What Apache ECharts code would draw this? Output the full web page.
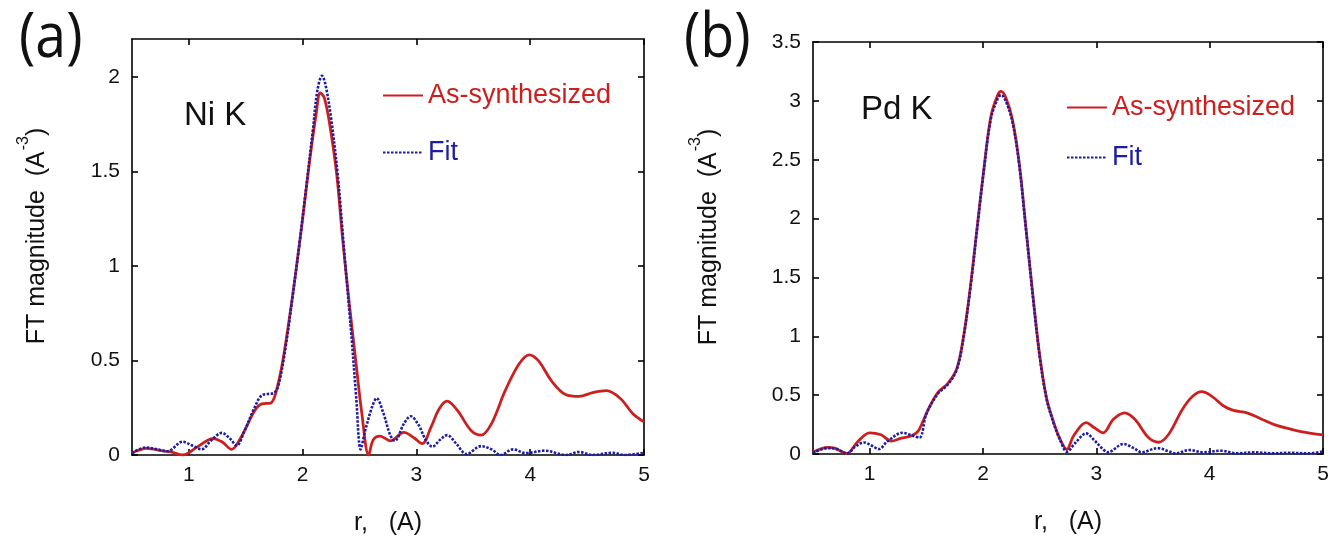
<!DOCTYPE html>
<html>
<head>
<meta charset="utf-8">
<script src="https://cdn.jsdelivr.net/npm/echarts@6/dist/echarts.min.js"></script>
<style>html,body{margin:0;padding:0;background:#fff}#c{width:1333px;height:546px}</style>
</head>
<body>
<div id="c"></div>
<script>
// ---------- data (r in Å, FT magnitude) ----------
var niExpR = [0.5,0.63,0.78,0.84,0.945,1.08,1.21,1.29,1.375,1.46,1.58,1.64,1.72,1.76,1.82,1.88,1.94,2.0,2.06,2.12,2.155,2.19,2.24,2.3,2.35,2.41,2.47,2.52,2.58,2.62,2.68,2.77,2.89,2.98,3.05,3.13,3.2,3.27,3.36,3.48,3.57,3.66,3.78,3.9,3.99,4.07,4.19,4.31,4.43,4.55,4.67,4.79,4.9,5.0];
var niExpY = [0.01,0.035,0.02,0.017,0.0,0.045,0.087,0.07,0.03,0.096,0.236,0.27,0.275,0.32,0.48,0.71,0.97,1.25,1.55,1.81,1.915,1.89,1.74,1.48,1.15,0.80,0.48,0.22,0.0,0.08,0.10,0.075,0.12,0.09,0.06,0.15,0.245,0.285,0.236,0.13,0.105,0.166,0.34,0.48,0.53,0.50,0.39,0.32,0.31,0.33,0.34,0.30,0.22,0.175];
var niFitR = [0.5,0.62,0.72,0.81,0.945,1.03,1.11,1.2,1.29,1.36,1.42,1.49,1.58,1.64,1.75,1.79,1.85,1.91,1.97,2.03,2.09,2.13,2.17,2.2,2.25,2.31,2.37,2.43,2.47,2.51,2.55,2.61,2.65,2.71,2.77,2.81,2.89,2.95,3.02,3.08,3.14,3.21,3.27,3.35,3.44,3.57,3.66,3.74,3.85,3.96,4.13,4.31,4.43,4.55,4.72,4.83,5.0];
var niFitY = [0.01,0.04,0.03,0.02,0.07,0.05,0.03,0.08,0.117,0.087,0.05,0.13,0.254,0.315,0.33,0.376,0.57,0.83,1.11,1.41,1.72,1.93,2.005,1.96,1.78,1.47,1.04,0.62,0.31,0.03,0.13,0.254,0.30,0.22,0.105,0.075,0.166,0.205,0.157,0.082,0.044,0.082,0.105,0.06,0.005,0.047,0.03,0.0,0.03,0.01,0.023,0.0,0.016,0.0,0.012,0.0,0.012];

var pdExpR = [0.5,0.63,0.69,0.8,0.89,1.0,1.1,1.19,1.28,1.37,1.43,1.51,1.6,1.69,1.77,1.83,1.89,1.95,2.01,2.07,2.13,2.16,2.2,2.26,2.32,2.38,2.44,2.5,2.56,2.62,2.68,2.74,2.8,2.91,2.98,3.06,3.15,3.25,3.34,3.46,3.55,3.64,3.76,3.85,3.93,4.02,4.12,4.21,4.33,4.45,4.57,4.72,4.87,5.0];
var pdExpY = [0.014,0.056,0.05,0.005,0.1,0.18,0.163,0.11,0.135,0.155,0.197,0.365,0.52,0.60,0.73,1.01,1.43,1.94,2.44,2.87,3.05,3.08,3.03,2.84,2.47,1.91,1.35,0.84,0.48,0.28,0.126,0.04,0.155,0.267,0.225,0.18,0.295,0.35,0.295,0.14,0.1,0.17,0.38,0.49,0.53,0.49,0.41,0.37,0.35,0.30,0.25,0.21,0.18,0.163];
var pdFitR = [0.5,0.63,0.71,0.8,0.87,0.95,1.02,1.08,1.16,1.29,1.38,1.44,1.5,1.6,1.69,1.77,1.83,1.89,1.95,2.01,2.07,2.13,2.16,2.2,2.26,2.32,2.38,2.44,2.5,2.56,2.62,2.68,2.74,2.82,2.91,2.98,3.06,3.1,3.24,3.33,3.4,3.54,3.64,3.7,3.82,3.94,4.1,4.24,4.39,4.57,4.69,4.87,5.0];
var pdFitY = [0.008,0.05,0.042,0.005,0.06,0.098,0.07,0.042,0.11,0.18,0.155,0.14,0.34,0.51,0.59,0.72,1.0,1.42,1.93,2.43,2.85,3.02,3.05,3.0,2.82,2.45,1.9,1.34,0.83,0.47,0.27,0.12,0.02,0.1,0.175,0.118,0.04,0.015,0.085,0.05,0.015,0.05,0.022,0.005,0.034,0.014,0.028,0.005,0.014,0.005,0.011,0.005,0.022];

var xTicks = [1,2,3,4,5];
var niYTicks = [0,0.5,1,1.5,2];
var pdYTicks = [0,0.5,1,1.5,2,2.5,3,3.5];
var seriesNames = ['As-synthesized','Fit'];
var panelTitles = ['(a)','(b)'];
var edgeNames = ['Ni K','Pd K'];

// ---------- helpers ----------
var RED = '#cc2020', BLUE = '#1c1ca6';
var FONT = 'Liberation Sans';
function zip(a,b){var o=[];for(var i=0;i<a.length;i++)o.push([a[i],b[i]]);return o;}
var yName = '{n|FT magnitude  (A}{s|-3}{n|)}';
var yRich = {n:{fontSize:25,fontFamily:FONT,color:'#111',lineHeight:34,verticalAlign:'bottom'},
             s:{fontSize:16,fontFamily:FONT,color:'#111',lineHeight:34,verticalAlign:'top',padding:[0,0,0,1]}};
var lineAx = {show:true,onZero:false,lineStyle:{color:'#000',width:1.6}};
var tickSt = {color:'#000',width:1.6};
function xMain(grid){return {type:'value',gridIndex:grid,min:0.5,max:5,position:'bottom',
  axisLine:lineAx,splitLine:{show:false},
  axisTick:{show:true,inside:true,length:6,customValues:xTicks,lineStyle:tickSt},
  axisLabel:{customValues:xTicks,fontSize:21,fontFamily:FONT,color:'#111',margin:10},
  name:'r,   (A)',nameLocation:'middle',nameGap:56,nameTextStyle:{fontSize:25,fontFamily:FONT,color:'#111'}};}
function xTop(grid){return {type:'value',gridIndex:grid,min:0.5,max:5,position:'top',
  axisLine:lineAx,splitLine:{show:false},
  axisTick:{show:true,inside:true,length:6,customValues:xTicks,lineStyle:tickSt},
  axisLabel:{show:false}};}
function yMain(grid,max,ticks,gap){return {type:'value',gridIndex:grid,min:0,max:max,position:'left',
  axisLine:lineAx,splitLine:{show:false},
  axisTick:{show:true,inside:true,length:6,customValues:ticks,lineStyle:tickSt},
  axisLabel:{customValues:ticks,fontSize:21,fontFamily:FONT,color:'#111',margin:12},
  name:yName,nameLocation:'middle',nameRotate:90,nameGap:gap,nameTextStyle:{rich:yRich,padding:[0,0,0,22]}};}
function yRight(grid,max,ticks){return {type:'value',gridIndex:grid,min:0,max:max,position:'right',
  axisLine:lineAx,splitLine:{show:false},
  axisTick:{show:true,inside:true,length:6,customValues:ticks,lineStyle:tickSt},
  axisLabel:{show:false}};}
function legend(left,top,gap){return {orient:'vertical',left:left,top:top,itemGap:gap,itemWidth:40,itemHeight:14,
  selectedMode:false,textStyle:{fontSize:27,fontFamily:FONT},
  itemStyle:{opacity:0,borderWidth:0},
  data:[{name:seriesNames[0],textStyle:{color:RED}},{name:seriesNames[1],textStyle:{color:BLUE}}]};}
function expSeries(xi,d){return {name:seriesNames[0],type:'line',xAxisIndex:xi,yAxisIndex:xi,data:d,
  symbol:'none',showSymbol:false,smooth:0.35,lineStyle:{color:RED,width:2.8},itemStyle:{color:RED},z:2};}
function fitSeries(xi,d){return {name:seriesNames[1],type:'line',xAxisIndex:xi,yAxisIndex:xi,data:d,
  symbol:'none',showSymbol:false,smooth:0.35,lineStyle:{color:BLUE,width:2.6,type:[2.5,1.5]},itemStyle:{color:BLUE},z:3};}

var chart = echarts.init(document.getElementById('c'),null,{renderer:'canvas'});
chart.setOption({
  animation:false,
  backgroundColor:'#fff',
  grid:[{left:132,right:689,top:39,bottom:91},{left:813,right:10,top:42,bottom:92}],
  xAxis:[xMain(0),xTop(0),xMain(1),xTop(1)],
  yAxis:[yMain(0,2.2,niYTicks,82),yRight(0,2.2,niYTicks),yMain(1,3.5,pdYTicks,91),yRight(1,3.5,pdYTicks)],
  legend:[legend(377,77,30),legend(1061,89,23)],
  series:[
    expSeries(0,zip(niExpR,niExpY)), fitSeries(0,zip(niFitR,niFitY)),
    expSeries(2,zip(pdExpR,pdExpY)), fitSeries(2,zip(pdFitR,pdFitY))
  ],
  graphic:[
    {type:'text',x:19,y:8,scaleX:0.88,style:{text:panelTitles[0],fontSize:63,fontFamily:'Open Sans',fill:'#111'}},
    {type:'text',x:684,y:8,scaleX:0.88,style:{text:panelTitles[1],fontSize:63,fontFamily:'Open Sans',fill:'#111'}},
    {type:'text',left:184,top:99,style:{text:edgeNames[0],fontSize:33,fontFamily:FONT,fill:'#111'}},
    {type:'text',left:861,top:93,style:{text:edgeNames[1],fontSize:33,fontFamily:FONT,fill:'#111'}}
  ]
});
</script>
</body>
</html>
